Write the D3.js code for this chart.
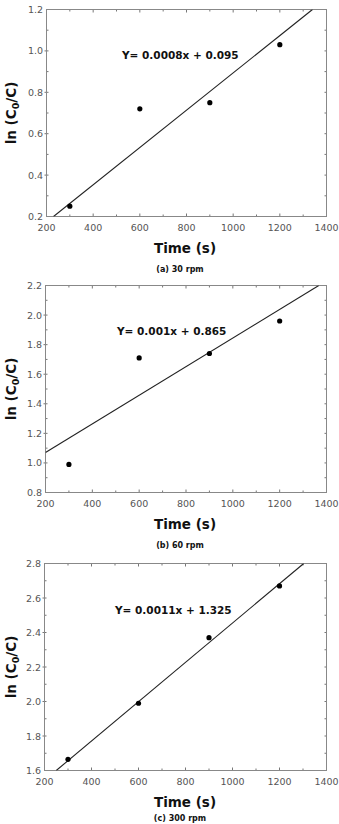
<!DOCTYPE html>
<html>
<head>
<meta charset="utf-8">
<script src="https://cdn.jsdelivr.net/npm/d3@7"></script>
<style>
  body { margin: 0; background: #fff; }
  svg { display: block; }
</style>
</head>
<body>
<div id="chart-area"></div>
<script>
// shared x values (time, s)
const times = [300, 600, 900, 1200];
const xTicks = [200, 400, 600, 800, 1000, 1200, 1400];

// (a) 30 rpm
const valuesA = [0.25, 0.72, 0.75, 1.03];
const fitA = [[230, 0.2], [1340, 1.2]];
const yTicksA = [0.2, 0.4, 0.6, 0.8, 1.0, 1.2];
const eqA = "Y= 0.0008x + 0.095";

// (b) 60 rpm
const valuesB = [0.99, 1.71, 1.74, 1.96];
const fitB = [[200, 1.07], [1367, 2.2]];
const yTicksB = [0.8, 1.0, 1.2, 1.4, 1.6, 1.8, 2.0, 2.2];
const eqB = "Y= 0.001x + 0.865";

// (c) 300 rpm
const valuesC = [1.665, 1.99, 2.37, 2.67];
const fitC = [[250, 1.6], [1303, 2.8]];
const yTicksC = [1.6, 1.8, 2.0, 2.2, 2.4, 2.6, 2.8];
const eqC = "Y= 0.0011x + 1.325";

const captions = ["(a) 30 rpm", "(b) 60 rpm", "(c) 300 rpm"];

const svg = d3.select("#chart-area")
    .append("svg")
    .attr("width", 339)
    .attr("height", 824);

const panels = [
    {values: valuesA, fit: fitA, yTicks: yTicksA, eq: eqA, caption: captions[0],
     left: 46.5, right: 326.5, top: 9.5, bottom: 216.5, eqX: 122, eqY: 59, capY: 271.5},
    {values: valuesB, fit: fitB, yTicks: yTicksB, eq: eqB, caption: captions[1],
     left: 45.5, right: 326.5, top: 285.5, bottom: 492.5, eqX: 117, eqY: 335, capY: 548},
    {values: valuesC, fit: fitC, yTicks: yTicksC, eq: eqC, caption: captions[2],
     left: 44.5, right: 326.5, top: 563.5, bottom: 770.5, eqX: 115, eqY: 614, capY: 821}
];

panels.forEach(drawPanel);

function drawPanel(p) {
    const x = d3.scaleLinear()
        .domain([xTicks[0], xTicks[xTicks.length - 1]])
        .range([p.left, p.right]);
    const y = d3.scaleLinear()
        .domain([p.yTicks[0], p.yTicks[p.yTicks.length - 1]])
        .range([p.bottom, p.top]);

    const g = svg.append("g");

    // minor ticks (every half step)
    const xMinor = d3.range(xTicks[0] + 100, xTicks[xTicks.length - 1], 200);
    const yStep = p.yTicks[1] - p.yTicks[0];
    const yMinor = p.yTicks.slice(0, -1).map(d => d + yStep / 2);

    const tickColor = "#777";

    // bottom + top ticks (inward)
    xTicks.slice(1, -1).concat(xMinor).forEach(function(d) {
        const len = xTicks.includes(d) ? 3 : 2;
        g.append("line")
            .attr("x1", x(d)).attr("x2", x(d))
            .attr("y1", p.bottom).attr("y2", p.bottom - len)
            .attr("stroke", tickColor);
        g.append("line")
            .attr("x1", x(d)).attr("x2", x(d))
            .attr("y1", p.top).attr("y2", p.top + len)
            .attr("stroke", tickColor);
    });

    // left (crossing) + right (inward) ticks
    p.yTicks.slice(1, -1).concat(yMinor).forEach(function(d) {
        const major = p.yTicks.some(t => Math.abs(t - d) < 1e-9);
        g.append("line")
            .attr("x1", p.left - (major ? 2 : 0)).attr("x2", p.left + 2)
            .attr("y1", y(d)).attr("y2", y(d))
            .attr("stroke", tickColor);
        g.append("line")
            .attr("x1", p.right).attr("x2", p.right - 2)
            .attr("y1", y(d)).attr("y2", y(d))
            .attr("stroke", tickColor);
    });

    // frame
    g.append("rect")
        .attr("x", p.left)
        .attr("y", p.top)
        .attr("width", p.right - p.left)
        .attr("height", p.bottom - p.top)
        .attr("fill", "none")
        .attr("stroke", "#888")
        .attr("stroke-width", 1);

    // tick labels
    g.selectAll(".xlab")
        .data(xTicks)
        .enter()
        .append("text")
        .attr("x", d => x(d))
        .attr("y", p.bottom + 14)
        .attr("text-anchor", "middle")
        .attr("font-family", "DejaVu Sans")
        .attr("font-size", "9.5px")
        .attr("fill", "#555")
        .text(d => d);

    g.selectAll(".ylab")
        .data(p.yTicks)
        .enter()
        .append("text")
        .attr("x", p.left - 3.5)
        .attr("y", d => y(d) + 3.5)
        .attr("text-anchor", "end")
        .attr("font-family", "DejaVu Sans")
        .attr("font-size", "9.5px")
        .attr("fill", "#555")
        .text(d => d.toFixed(1));

    // fit line, clipped to frame
    const clipId = "clip" + Math.round(p.top);
    svg.append("clipPath")
        .attr("id", clipId)
        .append("rect")
        .attr("x", p.left).attr("y", p.top)
        .attr("width", p.right - p.left)
        .attr("height", p.bottom - p.top);

    g.append("path")
        .datum(p.fit)
        .attr("clip-path", "url(#" + clipId + ")")
        .attr("fill", "none")
        .attr("stroke", "#222")
        .attr("stroke-width", 1.1)
        .attr("d", d3.line()
            .x(d => x(d[0]))
            .y(d => y(d[1])));

    // points
    g.selectAll("circle")
        .data(times)
        .enter()
        .append("circle")
        .attr("cx", d => x(d))
        .attr("cy", (d, i) => y(p.values[i]))
        .attr("r", 2.6)
        .attr("fill", "#000");

    // equation
    g.append("text")
        .attr("x", p.eqX)
        .attr("y", p.eqY)
        .attr("font-family", "DejaVu Sans")
        .attr("font-weight", "bold")
        .attr("font-size", "10.5px")
        .attr("fill", "#111")
        .text(p.eq);

    // x label
    g.append("text")
        .attr("x", 185)
        .attr("y", p.bottom + 36)
        .attr("text-anchor", "middle")
        .attr("font-family", "DejaVu Sans")
        .attr("font-weight", "bold")
        .attr("font-size", "13.5px")
        .attr("fill", "#111")
        .text("Time (s)");

    // y label
    const yl = g.append("text")
        .attr("transform", "translate(16," + ((p.top + p.bottom) / 2) + ") rotate(-90)")
        .attr("text-anchor", "middle")
        .attr("font-family", "DejaVu Sans")
        .attr("font-weight", "bold")
        .attr("font-size", "13.5px")
        .attr("fill", "#111");
    yl.append("tspan").text("ln (C");
    yl.append("tspan").attr("dy", 3).attr("font-size", "9.5px").text("0");
    yl.append("tspan").attr("dy", -3).text("/C)");

    // caption
    g.append("text")
        .attr("x", 180)
        .attr("y", p.capY)
        .attr("text-anchor", "middle")
        .attr("font-family", "DejaVu Sans")
        .attr("font-weight", "bold")
        .attr("font-size", "8px")
        .attr("fill", "#111")
        .text(p.caption);
}
</script>
</body>
</html>
